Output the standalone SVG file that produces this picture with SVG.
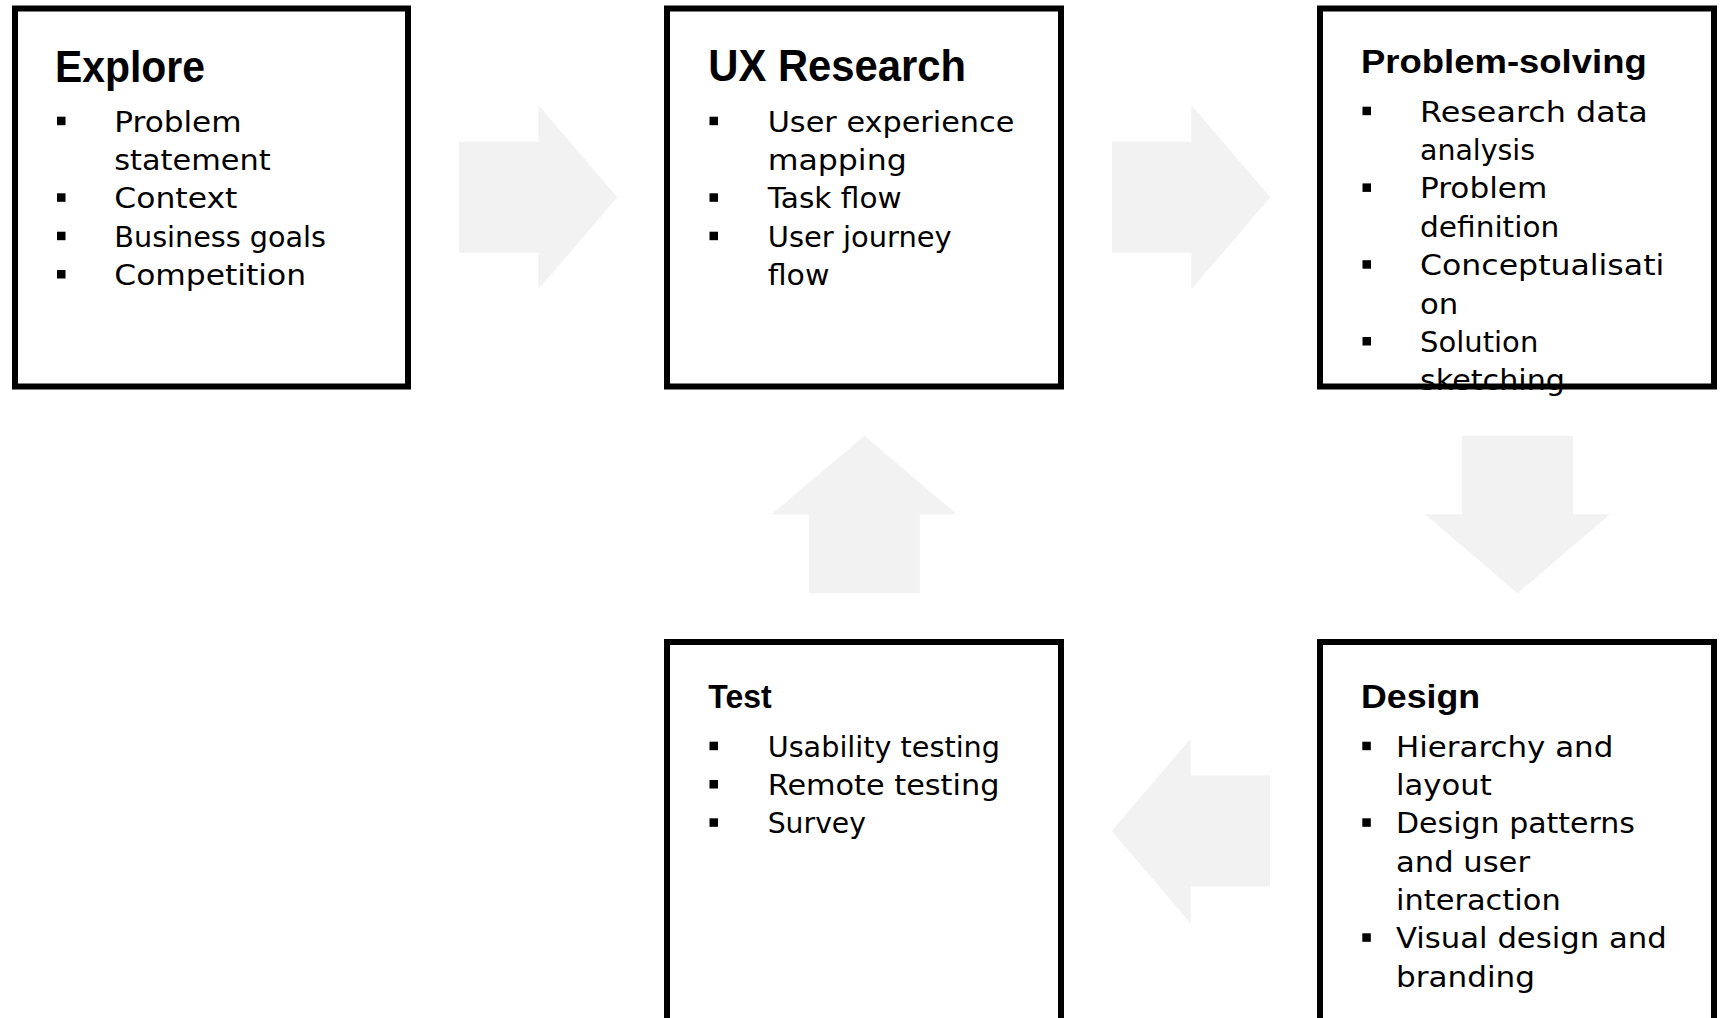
<svg xmlns="http://www.w3.org/2000/svg" width="1721" height="1018" viewBox="0 0 1721 1018">
<style>
.box{fill:#ffffff;stroke:#000000;stroke-width:6}
.arrow{fill:#f2f2f2;stroke:none}
.title{font-family:"Liberation Sans",Arial,sans-serif;font-weight:bold;fill:#000000}
.big{font-size:44px}
.small{font-size:32.5px}
.item{font-family:"DejaVu Sans","Liberation Sans",sans-serif;font-size:28px;fill:#000000}
.bul{fill:#000000}
</style>
<defs>
<rect id="b" width="8.5" height="8.5"/>
</defs>
<rect width="1721" height="1018" fill="#ffffff"/>
<g id="connectors">
<path class="arrow" d="M459,141.7 H538.3 V105 L617.3,197.3 L538.3,289.5 V252.7 H459 Z"/>
<path class="arrow" d="M1112,141.7 H1191.3 V105 L1270.3,197.3 L1191.3,289.5 V252.7 H1112 Z"/>
<path class="arrow" d="M1462,435.7 H1573 V514.3 H1610 L1517.5,593.3 L1425,514.3 H1462 Z"/>
<path class="arrow" d="M1111.7,831 L1190.7,738.5 V775.5 H1270 V886.5 H1190.7 V923.5 Z"/>
<path class="arrow" d="M864.3,435.7 L956.8,514.3 H919.8 V593.3 H808.8 V514.3 H771.8 Z"/>
</g>
<g id="explore">
<rect class="box" x="15" y="8.5" width="393" height="378"/>
<text class="title big" x="55" y="81.7" textLength="150" lengthAdjust="spacingAndGlyphs">Explore</text>
<use href="#b" x="57" y="116.7" class="bul"/>
<use href="#b" x="57" y="193.3" class="bul"/>
<use href="#b" x="57" y="231.7" class="bul"/>
<use href="#b" x="57" y="270" class="bul"/>
<text class="item" x="114.3" y="131.7" textLength="127.3" lengthAdjust="spacingAndGlyphs">Problem</text>
<text class="item" x="114.3" y="170" textLength="156.3" lengthAdjust="spacingAndGlyphs">statement</text>
<text class="item" x="114.3" y="208.3" textLength="123" lengthAdjust="spacingAndGlyphs">Context</text>
<text class="item" x="114.3" y="246.7" textLength="211.7" lengthAdjust="spacingAndGlyphs">Business goals</text>
<text class="item" x="114.3" y="285" textLength="191.7" lengthAdjust="spacingAndGlyphs">Competition</text>
</g>
<g id="ux-research">
<rect class="box" x="667" y="8.5" width="394" height="378"/>
<text class="title big" x="708.3" y="81" textLength="257.7" lengthAdjust="spacingAndGlyphs">UX Research</text>
<use href="#b" x="709.5" y="116.7" class="bul"/>
<use href="#b" x="709.5" y="193.3" class="bul"/>
<use href="#b" x="709.5" y="231.7" class="bul"/>
<text class="item" x="767.7" y="131.7" textLength="246.7" lengthAdjust="spacingAndGlyphs">User experience</text>
<text class="item" x="767.7" y="170" textLength="139" lengthAdjust="spacingAndGlyphs">mapping</text>
<text class="item" x="767.7" y="208.3" textLength="134" lengthAdjust="spacingAndGlyphs">Task flow</text>
<text class="item" x="767.7" y="246.7" textLength="184" lengthAdjust="spacingAndGlyphs">User journey</text>
<text class="item" x="767.7" y="285" textLength="61.7" lengthAdjust="spacingAndGlyphs">flow</text>
</g>
<g id="problem-solving">
<rect class="box" x="1320" y="8.5" width="394" height="378"/>
<text class="title small" x="1361" y="72.7" textLength="285.7" lengthAdjust="spacingAndGlyphs">Problem-solving</text>
<use href="#b" x="1362.5" y="106.7" class="bul"/>
<use href="#b" x="1362.5" y="183.4" class="bul"/>
<use href="#b" x="1362.5" y="260.2" class="bul"/>
<use href="#b" x="1362.5" y="337" class="bul"/>
<text class="item" x="1420" y="121.7" textLength="227.7" lengthAdjust="spacingAndGlyphs">Research data</text>
<text class="item" x="1420" y="160" textLength="115" lengthAdjust="spacingAndGlyphs">analysis</text>
<text class="item" x="1420" y="198.4" textLength="127.3" lengthAdjust="spacingAndGlyphs">Problem</text>
<text class="item" x="1420" y="236.8" textLength="139.3" lengthAdjust="spacingAndGlyphs">definition</text>
<text class="item" x="1420" y="275.2" textLength="244.3" lengthAdjust="spacingAndGlyphs">Conceptualisati</text>
<text class="item" x="1420" y="313.6" textLength="38.3" lengthAdjust="spacingAndGlyphs">on</text>
<text class="item" x="1420" y="352" textLength="118.3" lengthAdjust="spacingAndGlyphs">Solution</text>
<text class="item" x="1420" y="390.4" textLength="145" lengthAdjust="spacingAndGlyphs">sketching</text>
</g>
<g id="test">
<rect class="box" x="667" y="642" width="394" height="400"/>
<text class="title small" x="708.3" y="708.3" textLength="63.3" lengthAdjust="spacingAndGlyphs">Test</text>
<use href="#b" x="709.5" y="741.7" class="bul"/>
<use href="#b" x="709.5" y="780" class="bul"/>
<use href="#b" x="709.5" y="818.3" class="bul"/>
<text class="item" x="767.7" y="756.7" textLength="232.3" lengthAdjust="spacingAndGlyphs">Usability testing</text>
<text class="item" x="767.7" y="795" textLength="231.7" lengthAdjust="spacingAndGlyphs">Remote testing</text>
<text class="item" x="767.7" y="833.3" textLength="98.3" lengthAdjust="spacingAndGlyphs">Survey</text>
</g>
<g id="design">
<rect class="box" x="1320" y="642" width="394" height="400"/>
<text class="title small" x="1361" y="708.3" textLength="119" lengthAdjust="spacingAndGlyphs">Design</text>
<use href="#b" x="1362.3" y="741.7" class="bul"/>
<use href="#b" x="1362.3" y="818.3" class="bul"/>
<use href="#b" x="1362.3" y="933.3" class="bul"/>
<text class="item" x="1396" y="756.7" textLength="217.3" lengthAdjust="spacingAndGlyphs">Hierarchy and</text>
<text class="item" x="1396" y="795" textLength="95.7" lengthAdjust="spacingAndGlyphs">layout</text>
<text class="item" x="1396" y="833.3" textLength="239" lengthAdjust="spacingAndGlyphs">Design patterns</text>
<text class="item" x="1396" y="871.7" textLength="134" lengthAdjust="spacingAndGlyphs">and user</text>
<text class="item" x="1396" y="910" textLength="164.7" lengthAdjust="spacingAndGlyphs">interaction</text>
<text class="item" x="1396" y="948.3" textLength="270.7" lengthAdjust="spacingAndGlyphs">Visual design and</text>
<text class="item" x="1396" y="986.7" textLength="139" lengthAdjust="spacingAndGlyphs">branding</text>
</g>
</svg>
